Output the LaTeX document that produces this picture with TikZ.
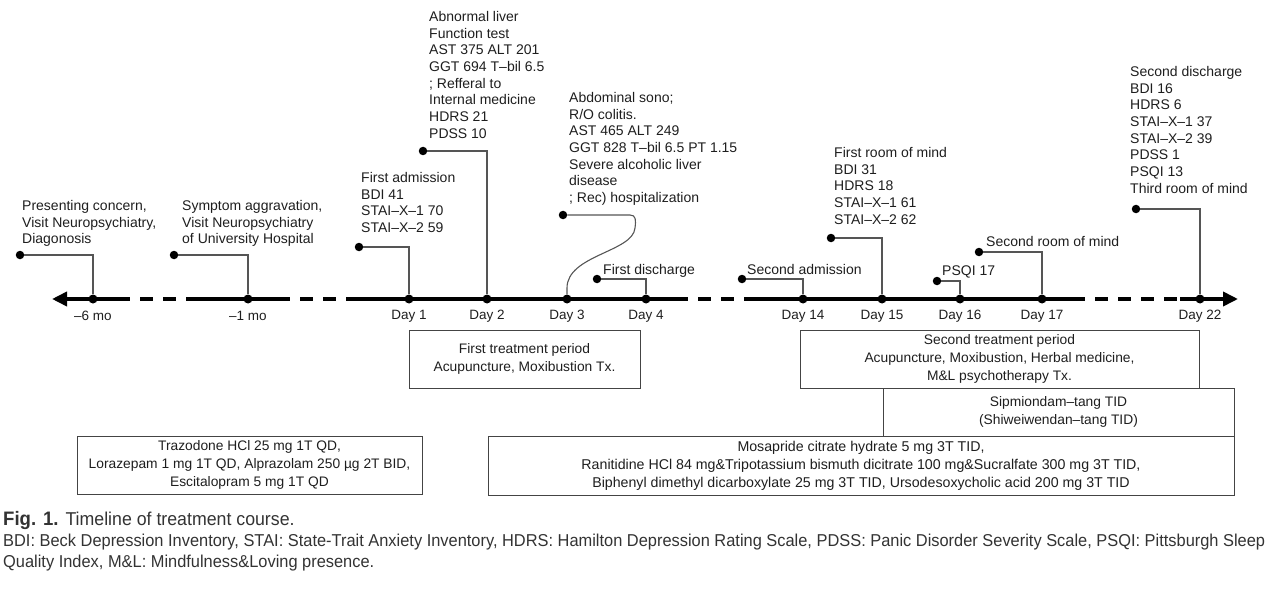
\documentclass[tikz,border=0pt]{standalone}
\usepackage{fontspec}
\usepackage{graphicx}
\setmainfont{Liberation Sans}
\usetikzlibrary{arrows.meta}
\definecolor{txt}{HTML}{1E1E1E}
\definecolor{connc}{HTML}{555555}
\definecolor{boxc}{HTML}{444444}
\definecolor{capc}{HTML}{333333}
\newlength\capw
\newcommand\capsecond{BDI: Beck Depression Inventory, STAI: State-Trait Anxiety Inventory, HDRS: Hamilton Depression Rating Scale, PDSS: Panic Disorder Severity Scale, PSQI: Pittsburgh Sleep}
\begin{document}
\settowidth\capw{\fontsize{17.2}{20}\selectfont\capsecond}%
\pgfmathsetmacro\capsx{1262/\capw}%
\begin{tikzpicture}[x=1pt,y=-1pt,
  lbl/.style={anchor=north west, inner sep=0pt, align=left, font=\fontsize{14}{16.7}\selectfont, text=txt},
  conn/.style={draw=connc, line width=1.1pt},
  evdot/.style={circle, fill=black, inner sep=0pt, minimum size=8.5pt},
  tickdot/.style={circle, fill=black, inner sep=0pt, minimum size=9pt},
  ticklbl/.style={anchor=center, inner sep=0pt, font=\fontsize{13.5}{16}\selectfont, text=txt},
  bx/.style={draw=boxc, line width=1pt, inner sep=0pt, align=center, font=\fontsize{13.8}{18}\selectfont, text=txt},
  axs/.style={line width=3.6pt},
  axd/.style={line width=3.6pt, dash pattern=on 13pt off 10pt, dash phase=13pt},
  capline/.style={anchor=west, inner sep=0pt, text=capc},
]
\useasboundingbox (0,0) rectangle (1271,596);
% axis end points
\coordinate (L) at (52,299);
\coordinate (R) at (1238,299);
% axis
\draw[axs, {Triangle[length=15pt,width=14pt]}-] (L) -- (130,299);
\draw[axd] (130,299) -- (195,299);
\draw[axs] (195,299) -- (290,299);
\draw[axd] (290,299) -- (352,299);
\draw[axs] (352,299) -- (688,299);
\draw[axd] (688,299) -- (752,299);
\draw[axs] (752,299) -- (1085,299);
\draw[axd] (1085,299) -- (1180,299);
\draw[axs, -{Triangle[length=15pt,width=14pt]}] (1180,299) -- (R);
% ticks
\foreach \n/\x/\t in {1/93/{--6 mo},2/248/{--1 mo},3/409/{Day 1},4/487/{Day 2},5/567/{Day 3},6/646/{Day 4},7/803/{Day 14},8/882/{Day 15},9/960/{Day 16},10/1042/{Day 17},11/1200/{Day 22}}{
  \node[tickdot] (t\n) at (\x,299) {};
  \node[ticklbl] (tl\n) at (\x,316) {\t};
}
% event dots
\node[evdot] (e1) at (20,255) {};
\node[evdot] (e2) at (174,255) {};
\node[evdot] (e3) at (359,247) {};
\node[evdot] (e4) at (423,151) {};
\node[evdot] (e5) at (563,215) {};
\node[evdot] (e6) at (597,279) {};
\node[evdot] (e7) at (742,279) {};
\node[evdot] (e8) at (831,238) {};
\node[evdot] (e9) at (937,281) {};
\node[evdot] (e10) at (979,252) {};
\node[evdot] (e11) at (1136,209) {};
% connectors
\draw[conn] (e1.east) -| (t1.north);
\draw[conn] (e2.east) -| (t2.north);
\draw[conn] (e3.east) -| (t3.north);
\draw[conn] (e4.east) -| (t4.north);
\coordinate (c5) at (630,215);
\draw[conn] (e5.east) -- (c5) .. controls (636,215) and (636,220) .. (635,228) .. controls (633,252) and (567,255) .. (567,288) -- (t5.north);
\draw[conn] (e6.east) -| (t6.north);
\draw[conn] (e7.east) -| (t7.north);
\draw[conn] (e8.east) -| (t8.north);
\draw[conn] (e9.east) -| (t9.north);
\draw[conn] (e10.east) -| (t10.north);
\draw[conn] (e11.east) -| (t11.north);
% labels
\node[lbl] (l1) at (22,200) {Presenting concern,\\Visit Neuropsychiatry,\\Diagonosis};
\node[lbl] (l2) at (182,200) {Symptom aggravation,\\Visit Neuropsychiatry\\of University Hospital};
\node[lbl] (l3) at (361,172) {First admission\\BDI 41\\STAI--X--1 70\\STAI--X--2 59};
\node[lbl] (l4) at (429,11) {Abnormal liver\\Function test\\AST 375 ALT 201\\GGT 694 T--bil 6.5\\; Refferal to\\Internal medicine\\HDRS 21\\PDSS 10};
\node[lbl] (l5) at (569,92) {Abdominal sono;\\R/O colitis.\\AST 465 ALT 249\\GGT 828 T--bil 6.5 PT 1.15\\Severe alcoholic liver\\disease\\; Rec) hospitalization};
\node[lbl] (l6) at (603,264) {First discharge};
\node[lbl] (l7) at (747,264) {Second admission};
\node[lbl] (l8) at (834,147) {First room of mind\\BDI 31\\HDRS 18\\STAI--X--1 61\\STAI--X--2 62};
\node[lbl] (l9) at (942,266) {PSQI 17};
\node[lbl] (l10) at (986,236) {Second room of mind};
\node[lbl] (l11) at (1130,66) {Second discharge\\BDI 16\\HDRS 6\\STAI--X--1 37\\STAI--X--2 39\\PDSS 1\\PSQI 13\\Third room of mind};
% boxes
\node[bx, minimum width=231pt, minimum height=58pt] (b1) at (524.5,359) {First treatment period\\Acupuncture, Moxibustion Tx.};
\node[bx, minimum width=399pt, minimum height=58pt] (b2) at (999.5,359) {Second treatment period\\Acupuncture, Moxibustion, Herbal medicine,\\M\&L psychotherapy Tx.};
\node[bx, minimum width=351pt, minimum height=48pt] (b3) at (1058.5,412) {Sipmiondam--tang TID\\(Shiweiwendan--tang TID)};
\node[bx, minimum width=345pt, minimum height=58pt] (b4) at (249.5,465) {Trazodone HCl 25 mg 1T QD,\\Lorazepam 1 mg 1T QD, Alprazolam 250 µg 2T BID,\\Escitalopram 5 mg 1T QD};
\node[bx, minimum width=746pt, minimum height=59pt, font=\fontsize{14.2}{18}\selectfont] (b5) at (861,465.5) {Mosapride citrate hydrate 5 mg 3T TID,\\Ranitidine HCl 84 mg\&Tripotassium bismuth dicitrate 100 mg\&Sucralfate 300 mg 3T TID,\\Biphenyl dimethyl dicarboxylate 25 mg 3T TID, Ursodesoxycholic acid 200 mg 3T TID};
% caption
\node[capline] (cap1) at (3,520) {\scalebox{\capsx}[1]{\fontsize{19.5}{20}\selectfont\textbf{Fig. 1.} \fontsize{18.6}{20}\selectfont Timeline of treatment course.}};
\node[capline] (cap2) at (3,542) {\scalebox{\capsx}[1]{\fontsize{17.2}{20}\selectfont\capsecond}};
\node[capline] (cap3) at (3,563) {\scalebox{\capsx}[1]{\fontsize{17.2}{20}\selectfont Quality Index, M\&L: Mindfulness\&Loving presence.}};
\end{tikzpicture}
\end{document}
